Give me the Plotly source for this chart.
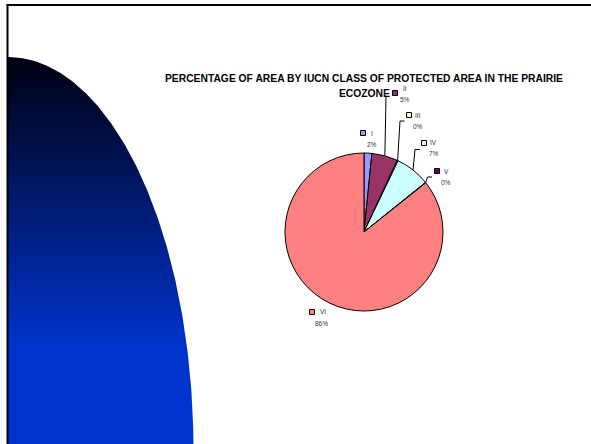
import numpy as np
import plotly.graph_objects as go

# ---- data -------------------------------------------------------------
categories = ["I", "II", "III", "IV", "V", "VI"]
shares = [1.6, 5.3, 0.2, 7.1, 0.1, 85.7]          # % of protected area by IUCN class
slice_colors = ["#9999FF", "#993366", "#FFFFCC", "#CCFFFF", "#660066", "#FF8080"]
title_lines = ["PERCENTAGE OF AREA BY IUCN CLASS OF PROTECTED AREA IN THE PRAIRIE",
               "ECOZONE"]

# ---- page layout (pixel units) -----------------------------------------
W, H = 591, 444
PIE_CX, PIE_CY, PIE_R = 364, 232, 79
FONT = "Liberation Sans, Arial, sans-serif"

# label block for each class: key square, name line, percent line
label_layout = {
    "I":   dict(key=(363, 133), name=(372, 133), pct=(372, 144)),
    "II":  dict(key=(395, 93),  name=(404.5, 88), pct=(404.5, 99)),
    "III": dict(key=(409, 115), name=(418, 115), pct=(418, 126)),
    "IV":  dict(key=(424, 143), name=(433.5, 142.5), pct=(433.5, 153.5)),
    "V":   dict(key=(437, 171), name=(446.5, 171), pct=(446, 182)),
    "VI":  dict(key=(312, 312), name=(322.5, 311.5), pct=(321.5, 323)),
}
# leader line bends after leaving the slice edge
leader_bends = {
    "II":  [(386, 97)],
    "III": [(400, 121), (404.5, 121)],
    "IV":  [(415, 149.5), (420, 149.5)],
    "V":   [(427.5, 177), (432, 177)],
}

vals = np.array(shares, dtype=float)
total = vals.sum()
pct_text = [f"{round(100 * v / total):.0f}%" for v in vals]
mid_frac = (np.cumsum(vals) - vals / 2) / total
mid_ang = 2 * np.pi * mid_frac                      # clockwise from 12 o'clock

fig = go.Figure()

# dark-to-blue decorative arc on the left of the slide
theta = np.linspace(-np.pi / 2, 0, 160)
arc_x = np.concatenate([[8], 8 + 185.5 * np.cos(theta), [8]])
arc_y = np.concatenate([[450], 450 + 393 * np.sin(theta), [450]])
fig.add_trace(go.Scatter(
    x=arc_x, y=arc_y, mode="lines", fill="toself",
    line=dict(width=0, color="rgba(0,0,0,0)"),
    fillgradient=dict(type="vertical",
                      colorscale=[[0, "#000010"], [1, "#0033CC"]],
                      start=57, stop=345),
    hoverinfo="skip", showlegend=False,
))

# leader lines from the slice edge to its label
for i, cat in enumerate(categories):
    if cat not in leader_bends:
        continue
    ex = PIE_CX + PIE_R * np.sin(mid_ang[i])
    ey = PIE_CY - PIE_R * np.cos(mid_ang[i])
    pts = [(ex, ey)] + leader_bends[cat]
    fig.add_trace(go.Scatter(
        x=[p[0] for p in pts], y=[p[1] for p in pts], mode="lines",
        line=dict(color="black", width=1), hoverinfo="skip", showlegend=False,
    ))

# legend-key squares beside each label
fig.add_trace(go.Scatter(
    x=[label_layout[c]["key"][0] for c in categories],
    y=[label_layout[c]["key"][1] for c in categories],
    mode="markers",
    marker=dict(symbol="square", size=5, color=slice_colors,
                line=dict(color="black", width=1)),
    hoverinfo="skip", showlegend=False,
))

# the pie itself
fig.add_trace(go.Pie(
    labels=categories, values=shares, sort=False, direction="clockwise",
    rotation=0, textinfo="none", hoverinfo="label+percent",
    marker=dict(colors=slice_colors, line=dict(color="black", width=1)),
    domain=dict(x=[(PIE_CX - PIE_R) / W, (PIE_CX + PIE_R) / W],
                y=[1 - (PIE_CY + PIE_R) / H, 1 - (PIE_CY - PIE_R) / H]),
    showlegend=False,
))

annotations = []
for i, cat in enumerate(categories):
    lay = label_layout[cat]
    for txt, pos in ((cat, lay["name"]), (pct_text[i], lay["pct"])):
        annotations.append(dict(
            x=pos[0], y=pos[1], xref="x", yref="y", text=txt, showarrow=False,
            xanchor="center", yanchor="middle",
            font=dict(family=FONT, size=6.5, color="#333333"),
        ))
for k, line in enumerate(title_lines):
    annotations.append(dict(
        x=PIE_CX, y=78 + 15 * k, xref="x", yref="y", text=f"<b>{line}</b>",
        showarrow=False, xanchor="center", yanchor="middle",
        font=dict(family=FONT, size=10.3, color="black"),
    ))

# slide frame: top and left rules
shapes = [
    dict(type="line", xref="x", yref="y", x0=6.5, x1=W, y0=5, y1=5,
         line=dict(color="black", width=2), layer="above"),
    dict(type="line", xref="x", yref="y", x0=7.5, x1=7.5, y0=4, y1=H,
         line=dict(color="black", width=2), layer="above"),
]

fig.update_layout(
    width=W, height=H, margin=dict(l=0, r=0, t=0, b=0),
    paper_bgcolor="white", plot_bgcolor="white",
    xaxis=dict(range=[0, W], visible=False, fixedrange=True, domain=[0, 1]),
    yaxis=dict(range=[H, 0], visible=False, fixedrange=True, domain=[0, 1]),
    annotations=annotations, shapes=shapes, showlegend=False,
)

fig.write_html("out.html")
